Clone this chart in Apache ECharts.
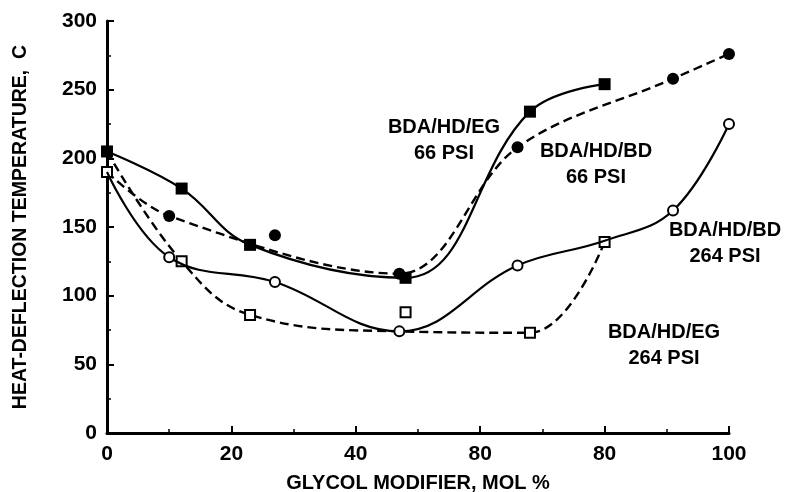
<!DOCTYPE html>
<html>
<head>
<meta charset="utf-8">
<script src="https://cdn.jsdelivr.net/npm/echarts@6/dist/echarts.min.js"></script>
<style>
  html, body { margin: 0; padding: 0; background: #fff; }
  #chart { width: 785px; height: 492px; }
</style>
</head>
<body>
<div id="chart"></div>
<script>
// Heat-deflection temperature vs. glycol modifier content
const xTicks = [0, 20, 40, 60, 80, 100];
const xTickLabels = ['0', '20', '40', '80', '80', '100'];
const yTicks = [0, 50, 100, 150, 200, 250, 300];

// BDA/HD/EG at 66 psi (filled squares, solid)
const eg66X = [0, 12, 23, 48, 68, 80];
const eg66Y = [205, 178, 137, 113, 234, 254];
// BDA/HD/BD at 66 psi (filled circles, dashed)
const bd66X = [0, 10, 47, 66, 91, 100];
const bd66Y = [190, 158, 116, 208, 258, 276];
// BDA/HD/BD at 264 psi (open circles, solid)
const bd264X = [0, 10, 27, 47, 66, 80, 91, 100];
const bd264Y = [190, 128, 110, 74, 122, 140, 162, 225];
// BDA/HD/EG at 264 psi (open squares, dashed)
const eg264X = [0, 12, 23, 47, 68, 80];
const eg264Y = [205, 125, 86, 74, 73, 139];
// Measurements not joined by a curve
const bd66ExtraX = [27];
const bd66ExtraY = [144];
const eg264ExtraX = [48];
const eg264ExtraY = [88];

const FONT = '"Liberation Sans", Arial, sans-serif';

const filled = { color: '#000', borderColor: '#000', borderWidth: 0, opacity: 1 };
const hollow = { color: '#fff', borderColor: '#000', borderWidth: 2, opacity: 1 };

// Build point list; points whose index is in `bare` carry no marker,
// `override` swaps the marker style of single points.
function points(xs, ys, bare, override) {
  return xs.map((x, i) => {
    const item = { value: [x, ys[i]] };
    if (bare && bare.indexOf(i) >= 0) item.symbol = 'none';
    if (override && override[i]) Object.assign(item, override[i]);
    return item;
  });
}

const chart = echarts.init(document.getElementById('chart'), null, { renderer: 'canvas' });

const axisText = { color: '#000', fontFamily: FONT, fontWeight: 'bold', fontSize: 21 };

chart.setOption({
  animation: false,
  backgroundColor: '#fff',
  grid: { left: 107, right: 56, top: 21, bottom: 59, containLabel: false, outerBoundsMode: 'none' },
  xAxis: {
    type: 'value', min: 0, max: 100, interval: 20,
    name: 'GLYCOL MODIFIER, MOL %', nameLocation: 'middle', nameGap: 40,
    nameTextStyle: Object.assign({}, axisText, { fontSize: 20 }),
    axisLine: { lineStyle: { color: '#000', width: 3 } },
    axisTick: { inside: true, length: 7, lineStyle: { color: '#000', width: 2 } },
    minorTick: { show: true, splitNumber: 2, length: 4, lineStyle: { color: '#000', width: 1.5 } },
    axisLabel: Object.assign({}, axisText, {
      margin: 11,
      formatter: v => xTickLabels[xTicks.indexOf(v)] ?? ''
    }),
    splitLine: { show: false }
  },
  yAxis: {
    type: 'value', min: 0, max: 300, interval: 50,
    name: 'HEAT-DEFLECTION TEMPERATURE,  C', nameLocation: 'middle', nameGap: 76,
    nameTextStyle: Object.assign({}, axisText, { fontSize: 19.5 }),
    axisLine: { show: true, lineStyle: { color: '#000', width: 3 } },
    axisTick: { show: true, inside: true, length: 7, lineStyle: { color: '#000', width: 2 } },
    minorTick: { show: true, splitNumber: 2, length: 4, lineStyle: { color: '#000', width: 1.5 } },
    axisLabel: Object.assign({}, axisText, {
      margin: 10,
      formatter: v => yTicks.indexOf(v) >= 0 ? String(v) : ''
    }),
    splitLine: { show: false }
  },
  series: [
    {
      name: 'BDA/HD/EG 66 PSI', type: 'line', smooth: 0.4,
      data: points(eg66X, eg66Y),
      symbol: 'rect', symbolSize: 12, itemStyle: filled,
      lineStyle: { color: '#000', width: 2.2 }, z: 3
    },
    {
      name: 'BDA/HD/BD 66 PSI', type: 'line', smooth: 0.35,
      data: points(bd66X, bd66Y, [], { 0: { symbol: 'rect', symbolSize: 10, itemStyle: hollow } }),
      symbol: 'circle', symbolSize: 12, itemStyle: filled,
      lineStyle: { color: '#000', width: 2.4, type: [9, 5] }, z: 3
    },
    {
      name: 'BDA/HD/BD 264 PSI', type: 'line', smooth: 0.4,
      data: points(bd264X, bd264Y, [0, 5]),
      symbol: 'circle', symbolSize: 10, itemStyle: hollow,
      lineStyle: { color: '#000', width: 2.2 }, z: 4
    },
    {
      name: 'BDA/HD/EG 264 PSI', type: 'line', smooth: 0.4,
      data: points(eg264X, eg264Y, [0, 3]),
      symbol: 'rect', symbolSize: 10, itemStyle: hollow,
      lineStyle: { color: '#000', width: 2.4, type: [9, 5] }, z: 3
    },
    {
      name: 'BDA/HD/BD 66 PSI (unjoined)', type: 'scatter',
      data: points(bd66ExtraX, bd66ExtraY),
      symbol: 'circle', symbolSize: 12, itemStyle: filled, z: 5
    },
    {
      name: 'BDA/HD/EG 264 PSI (unjoined)', type: 'scatter',
      data: points(eg264ExtraX, eg264ExtraY),
      symbol: 'rect', symbolSize: 10, itemStyle: hollow, z: 5
    }
  ],
  graphic: [
    { text: 'BDA/HD/EG\n66 PSI', x: 444, y: 114 },
    { text: 'BDA/HD/BD\n66 PSI', x: 596, y: 138 },
    { text: 'BDA/HD/BD\n264 PSI', x: 725, y: 217 },
    { text: 'BDA/HD/EG\n264 PSI', x: 664, y: 319 }
  ].map(t => ({
    type: 'text', x: t.x, y: t.y, z: 10,
    style: {
      text: t.text, align: 'center', verticalAlign: 'top',
      fill: '#000', font: 'bold 20px ' + FONT, lineHeight: 26
    }
  }))
});
</script>
</body>
</html>
